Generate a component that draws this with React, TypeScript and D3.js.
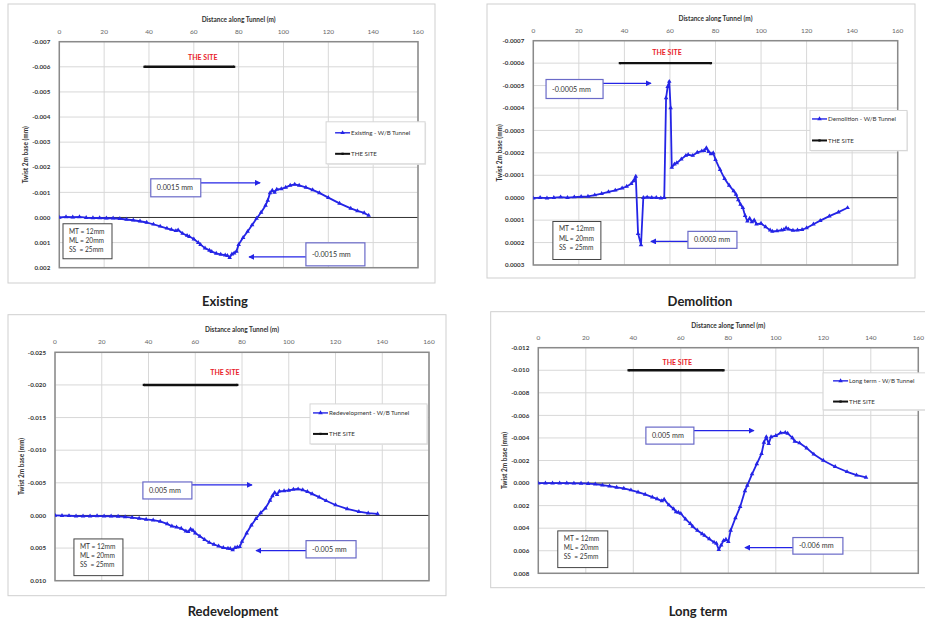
import React from 'react';
import * as d3 from 'd3';

// ---------------- DATA ----------------
const xTicks = [0, 20, 40, 60, 80, 100, 120, 140, 160];
const siteX = [38, 78];

const existingX = [0, 3, 6, 9, 12, 15, 18, 21, 24, 27, 30, 33, 36, 39, 42, 45, 48, 50, 52, 53, 55, 57, 58, 60, 62, 63, 65, 67, 68, 70, 72, 74, 75, 76, 77, 78, 79, 80, 82, 84, 86, 88, 90, 92, 93, 94, 95, 96, 97, 99, 101, 103, 105, 107, 110, 113, 116, 120, 125, 130, 133, 136, 138];
const existingTwist = [0, -0.00002, -0.00001, -0.00002, 0.00001, 0.00002, 0.00002, 0.00003, 0.00003, 0.00005, 0.00008, 0.00011, 0.00015, 0.0002, 0.00027, 0.00035, 0.00043, 0.00048, 0.00053, 0.0005, 0.00064, 0.00072, 0.00076, 0.00086, 0.001, 0.00108, 0.00122, 0.00131, 0.00136, 0.00143, 0.00147, 0.0015, 0.00152, 0.0016, 0.00146, 0.00142, 0.00135, 0.00108, 0.0008, 0.00056, 0.0003, 0.00004, -0.0002, -0.00048, -0.00068, -0.00098, -0.00108, -0.001, -0.00112, -0.00114, -0.0012, -0.00128, -0.00132, -0.00128, -0.0012, -0.0011, -0.00098, -0.00079, -0.00056, -0.00036, -0.00026, -0.00018, -0.00008];

const demolitionX = [0, 3, 6, 9, 12, 15, 18, 21, 24, 27, 30, 33, 36, 39, 41, 43, 44, 45, 46, 47.3, 48.3, 50, 52, 54, 56, 57.5, 58.3, 59, 59.7, 60.3, 60.8, 62, 63, 65, 67, 68, 70, 72, 74, 75, 76, 77, 78, 79, 80, 82, 84, 86, 88, 89, 90, 91, 92, 93, 94, 95, 96, 97, 98, 100, 102, 104, 105, 107, 109, 110, 111, 112, 114, 116, 118, 120, 123, 126, 130, 134, 138];
const demolitionTwist = [0.000002, 0, 0.000002, 0, -0.000003, 0, -0.000003, -0.000005, -0.000006, -0.000012, -0.000018, -0.000026, -0.000033, -0.000043, -0.00005, -0.000062, -0.000075, -0.000095, 0.00016, 0.00021, 0, -0.000002, 0, 0, 0.000002, 0, -0.000445, -0.000495, -0.000518, -0.0004, -0.000135, -0.00015, -0.000155, -0.000172, -0.000188, -0.000192, -0.000188, -0.000202, -0.000208, -0.00021, -0.000222, -0.000205, -0.000195, -0.0002, -0.00017, -0.000125, -0.000085, -0.000055, -0.00003, -0.000015, 0.00001, 0.00003, 0.000045, 0.00008, 0.000105, 0.000092, 0.000108, 0.0001, 0.000118, 0.000115, 0.00013, 0.000145, 0.00015, 0.000148, 0.000145, 0.000142, 0.000135, 0.00014, 0.000146, 0.000145, 0.000142, 0.000135, 0.000118, 0.000102, 0.000082, 0.000064, 0.000045];

const redevX = [0, 3, 6, 9, 12, 15, 18, 21, 24, 27, 30, 33, 36, 39, 42, 45, 48, 50, 52, 54, 56, 57, 58, 59, 60, 62, 64, 66, 68, 70, 72, 74, 75, 76, 77, 78, 79, 80, 82, 84, 86, 88, 90, 92, 93, 94, 95, 96, 98, 100, 102, 104, 106, 108, 110, 113, 116, 120, 125, 130, 134, 138];
const redevTwist = [0, 0.00002, 0.00005, 0.0001, 0.0001, 0.0001, 0.00008, 0.0001, 0.00012, 0.00015, 0.00022, 0.00032, 0.00045, 0.0006, 0.00072, 0.00092, 0.0013, 0.00165, 0.0018, 0.002, 0.0024, 0.0025, 0.0021, 0.0023, 0.0027, 0.0032, 0.0037, 0.00415, 0.00445, 0.0047, 0.00495, 0.00505, 0.0051, 0.0053, 0.00495, 0.00485, 0.0048, 0.004, 0.0027, 0.0015, 0.0005, -0.0004, -0.0011, -0.0023, -0.003, -0.0035, -0.0032, -0.0037, -0.00375, -0.00385, -0.004, -0.00405, -0.0039, -0.00365, -0.0033, -0.0028, -0.00225, -0.0016, -0.001, -0.00058, -0.00035, -0.00025];

const longX = [0, 3, 6, 9, 12, 15, 18, 21, 24, 27, 30, 33, 36, 39, 42, 45, 48, 50, 52, 53, 55, 57, 58, 59, 60, 62, 64, 65, 67, 69, 70, 72, 74, 75, 76, 77, 78, 79, 80, 81, 83, 85, 87, 88, 90, 92, 94, 95, 96, 97, 98, 100, 102, 104, 105, 107, 108, 110, 113, 116, 120, 125, 130, 134, 138];
const longTwist = [0, 0, 0, 0, 0, 0.00002, 0.00003, 0.00005, 0.0001, 0.00018, 0.00028, 0.00038, 0.00048, 0.00062, 0.0008, 0.001, 0.00125, 0.0014, 0.00158, 0.00145, 0.00195, 0.0023, 0.00255, 0.0026, 0.0027, 0.0032, 0.0036, 0.00385, 0.0042, 0.0045, 0.00465, 0.00495, 0.00525, 0.00535, 0.0059, 0.0055, 0.0051, 0.005, 0.0052, 0.0042, 0.0031, 0.0021, 0.0007, 0.0002, -0.0008, -0.0017, -0.0026, -0.0036, -0.0041, -0.0035, -0.0041, -0.0042, -0.00445, -0.00448, -0.0044, -0.004, -0.0037, -0.00355, -0.0031, -0.00255, -0.002, -0.00145, -0.001, -0.0007, -0.0005];

const existingYTicks = [-0.007, -0.006, -0.005, -0.004, -0.003, -0.002, -0.001, 0, 0.001, 0.002];
const demolitionYTicks = [-0.0007, -0.0006, -0.0005, -0.0004, -0.0003, -0.0002, -0.0001, 0, 0.0001, 0.0002, 0.0003];
const redevYTicks = [-0.025, -0.02, -0.015, -0.01, -0.005, 0, 0.005, 0.01];
const longYTicks = [-0.012, -0.01, -0.008, -0.006, -0.004, -0.002, 0, 0.002, 0.004, 0.006, 0.008];

const panelTitles = ['Existing', 'Demolition', 'Redevelopment', 'Long term'];
const seriesNames = ['Existing - W/B Tunnel', 'Demolition - W/B Tunnel', 'Redevelopment - W/B Tunnel', 'Long term - W/B Tunnel'];
const siteLevels = [-0.006, -0.0006, -0.02, -0.01];
const mtLines = ['MT = 12mm', 'ML = 20mm', 'SS  = 25mm'];

// ---------------- LAYOUT ----------------
const FONT = "Lato, 'Open Sans', 'Liberation Sans', sans-serif";
const BLUE = '#2424e6';
const BOXBLUE = '#6a6ac8';

const panels = [
  {
    title: panelTitles[0], titleX: 225, titleY: 306,
    frame: [8, 4, 435, 283], plot: [59.3, 41.7, 418, 267.7],
    yTicks: existingYTicks, dec: 3, xs: existingX, ys: existingTwist, name: seriesNames[0], site: siteLevels[0],
    siteText: [64, -0.00639],
    legend: { x: 119, y: -0.00381, w: 99, h: 42, lx: 9, r1: 11, r2: 32 },
    mt: { x: 1.65, y: 0.00025, w: 49, h: 35 },
    ann: [
      { label: '0.0015 mm', x: 40.8, y: -0.00154, w: 50, h: 18, ay: -0.00138, tip: 90 },
      { label: '-0.0015 mm', x: 110, y: 0.00101, w: 59, h: 23, ay: 0.00157, tip: 84.2 },
    ],
  },
  {
    title: panelTitles[1], titleX: 700, titleY: 306,
    frame: [487, 4, 915, 278], plot: [533.3, 40.7, 897.7, 265],
    yTicks: demolitionYTicks, dec: 4, xs: demolitionX, ys: demolitionTwist, name: seriesNames[1], site: siteLevels[1],
    siteText: [58.7, -0.000648],
    legend: { x: 121.5, y: -0.000389, w: 97, h: 40, lx: 2, r1: 8.5, r2: 30 },
    mt: { x: 8.6, y: 0.000106, w: 48, h: 38 },
    ann: [
      { label: '-0.0005 mm', x: 5.6, y: -0.000527, w: 57, h: 19, ay: -0.00051, tip: 52.1 },
      { label: '0.0003 mm', x: 67.9, y: 0.00015, w: 49, h: 17, ay: 0.000195, tip: 51.2 },
    ],
  },
  {
    title: panelTitles[2], titleX: 233, titleY: 616,
    frame: [8, 314.7, 446, 595.7], plot: [55, 352.3, 429, 580.7],
    yTicks: redevYTicks, dec: 3, xs: redevX, ys: redevTwist, name: seriesNames[2], site: siteLevels[2],
    siteText: [72.7, -0.02188],
    legend: { x: 109.1, y: -0.01709, w: 117, h: 40, lx: 3, r1: 9, r2: 30 },
    mt: { x: 8.1, y: 0.0036, w: 49, h: 36.7 },
    ann: [
      { label: '0.005 mm', x: 37.6, y: -0.00513, w: 49, h: 17, ay: -0.00467, tip: 84.7 },
      { label: '-0.005 mm', x: 107.4, y: 0.00386, w: 50, h: 17.3, ay: 0.00539, tip: 85.6 },
    ],
  },
  {
    title: panelTitles[3], titleX: 698, titleY: 616,
    frame: [490.7, 311.7, 940, 587.7], plot: [538.3, 347.7, 918.3, 573.3],
    yTicks: longYTicks, dec: 3, xs: longX, ys: longTwist, name: seriesNames[3], site: siteLevels[3],
    siteText: [58.5, -0.01072],
    legend: { x: 119.9, y: -0.00977, w: 115, h: 37, lx: 10, r1: 8, r2: 28.7 },
    mt: { x: 8.2, y: 0.00424, w: 50, h: 36.7 },
    ann: [
      { label: '0.005 mm', x: 45.3, y: -0.00496, w: 48, h: 17, ay: -0.00465, tip: 91.2 },
      { label: '-0.006 mm', x: 107.2, y: 0.00483, w: 50, h: 16.6, ay: 0.00572, tip: 86.6 },
    ],
  },
];

function fmt(v: number, dec: number) {
  const s = Math.abs(v) < 1e-12 ? (0).toFixed(dec) : v.toFixed(dec);
  return s;
}

function Panel({ cfg, idx }: { cfg: any; idx: number }) {
  const [l, t, r, b] = cfg.plot;
  const x = d3.scaleLinear().domain([0, 160]).range([l, r]);
  const yDom = [cfg.yTicks[0], cfg.yTicks[cfg.yTicks.length - 1]];
  const y = d3.scaleLinear().domain(yDom).range([t, b]);
  const pts: [number, number][] = cfg.xs.map((v: number, i: number) => [v, cfg.ys[i]]);
  const line = d3.line<[number, number]>().x((d) => x(d[0])).y((d) => y(d[1]));
  const tri = d3.symbol().type(d3.symbolTriangle).size(9)() as string;
  const triLeg = d3.symbol().type(d3.symbolTriangle).size(9)() as string;
  const sq = d3.symbol().type(d3.symbolSquare).size(5)() as string;
  const [fx0, fy0, fx1, fy1] = cfg.frame;
  const lg = cfg.legend;
  const lgx = x(lg.x), lgy = y(lg.y);
  const clipId = `clip${idx}`;
  return (
    <g>
      <defs>
        <clipPath id={clipId}>
          <rect x={l} y={t} width={r - l} height={b - t} />
        </clipPath>
      </defs>
      <rect x={fx0} y={fy0} width={fx1 - fx0} height={fy1 - fy0} fill="#fff" stroke="#cfcfcf" strokeWidth={1} />
      {/* gridlines */}
      {xTicks.map((v) => (
        <line key={'gx' + v} x1={x(v)} x2={x(v)} y1={t} y2={b} stroke="#d8d8d8" strokeWidth={1} />
      ))}
      {cfg.yTicks.map((v: number) => (
        <line key={'gy' + v} x1={l} x2={r} y1={y(v)} y2={y(v)} stroke="#d8d8d8" strokeWidth={1} />
      ))}
      {/* zero line */}
      <line x1={l} x2={r} y1={y(0)} y2={y(0)} stroke="#333" strokeWidth={1} />
      {/* plot border */}
      <rect x={l} y={t} width={r - l} height={b - t} fill="none" stroke="#8a8a8a" strokeWidth={1.5} />
      {/* x ticks (top) */}
      {xTicks.map((v) => (
        <text key={'xt' + v} x={x(v)} y={t - 8} fontSize={6.5} fill="#666" textAnchor="middle" fontFamily={FONT}>
          {v}
        </text>
      ))}
      <text x={(l + r) / 2} y={t - 20} fontSize={6.5} fontWeight="bold" fill="#333" textAnchor="middle" fontFamily={FONT}>
        Distance along Tunnel (m)
      </text>
      {/* y ticks */}
      {cfg.yTicks.map((v: number) => (
        <text key={'yt' + v} x={l - 9} y={y(v) + 2.2} fontSize={6.2} fontWeight="bold" fill="#333" textAnchor="end" fontFamily={FONT}>
          {fmt(v, cfg.dec)}
        </text>
      ))}
      <text
        transform={`translate(${l - 31},${(t + b) / 2}) rotate(-90)`}
        fontSize={6.5} fontWeight="bold" fill="#333" textAnchor="middle" fontFamily={FONT}
      >
        Twist 2m base (mm)
      </text>
      {/* site bar */}
      <line x1={x(siteX[0])} x2={x(siteX[1])} y1={y(cfg.site)} y2={y(cfg.site)} stroke="#111" strokeWidth={2.4} />
      {siteX.map((v) => (
        <path key={'sm' + v} d={sq} transform={`translate(${x(v)},${y(cfg.site)})`} fill="#111" />
      ))}
      <text x={x(cfg.siteText[0])} y={y(cfg.siteText[1]) + 2.5} fontSize={7} fontWeight="bold" fill="#e8212a" textAnchor="middle" fontFamily={FONT}>
        THE SITE
      </text>
      {/* series */}
      <g clipPath={`url(#${clipId})`}>
        <path d={line(pts) as string} fill="none" stroke={BLUE} strokeWidth={1.8} strokeLinejoin="round" />
        {pts.map((p, i) => (
          <path key={i} d={tri} transform={`translate(${x(p[0])},${y(p[1])})`} fill={BLUE} />
        ))}
      </g>
      {/* annotations */}
      {cfg.ann.map((a: any, i: number) => {
        const bx = x(a.x), by = y(a.y);
        const tipX = x(a.tip), ay = y(a.ay);
        const fromX = tipX > bx ? bx + a.w : bx;
        return (
          <g key={'ann' + i}>
            <line x1={fromX} x2={tipX + (tipX > bx ? -1 : 1)} y1={ay} y2={ay} stroke={BLUE} strokeWidth={1.3} markerEnd="url(#arrowHead)" />
            <rect x={bx} y={by} width={a.w} height={a.h} fill="#fff" stroke={BOXBLUE} strokeWidth={1.2} />
            <text x={bx + 6} y={by + a.h / 2 + 2.5} fontSize={7.2} fill="#333" fontFamily={FONT}>
              {a.label}
            </text>
          </g>
        );
      })}
      {/* MT box */}
      <g>
        <rect x={x(cfg.mt.x)} y={y(cfg.mt.y)} width={cfg.mt.w} height={cfg.mt.h} fill="#fff" stroke="#444" strokeWidth={1} />
        {mtLines.map((s, i) => (
          <text key={s} x={x(cfg.mt.x) + 6} y={y(cfg.mt.y) + 10 + i * 9.2} fontSize={6.6} fill="#333" fontFamily={FONT} xmlSpace="preserve">
            {s}
          </text>
        ))}
      </g>
      {/* legend */}
      <g>
        <rect x={lgx + 1} y={lgy + 1} width={lg.w} height={lg.h} fill="#e6e6e6" />
        <rect x={lgx} y={lgy} width={lg.w} height={lg.h} fill="#fff" stroke="#d6d6d6" strokeWidth={1} />
        <line x1={lgx + lg.lx} x2={lgx + lg.lx + 15} y1={lgy + lg.r1} y2={lgy + lg.r1} stroke={BLUE} strokeWidth={1.4} />
        <path d={triLeg} transform={`translate(${lgx + lg.lx + 7.5},${lgy + lg.r1})`} fill={BLUE} />
        <text x={lgx + lg.lx + 16} y={lgy + lg.r1 + 2.2} fontSize={6.2} fill="#333" fontFamily={FONT}>
          {cfg.name}
        </text>
        <line x1={lgx + lg.lx} x2={lgx + lg.lx + 15} y1={lgy + lg.r2} y2={lgy + lg.r2} stroke="#111" strokeWidth={2} />
        <path d={sq} transform={`translate(${lgx + lg.lx + 7.5},${lgy + lg.r2})`} fill="#111" />
        <text x={lgx + lg.lx + 16} y={lgy + lg.r2 + 2.2} fontSize={6.2} fill="#333" fontFamily={FONT}>
          THE SITE
        </text>
      </g>
      {/* panel title */}
      <text x={cfg.titleX} y={cfg.titleY} fontSize={13} fontWeight="bold" fill="#222" textAnchor="middle" fontFamily={FONT}>
        {cfg.title}
      </text>
    </g>
  );
}

export default function App() {
  return (
    <svg
      width={925}
      height={623}
      viewBox="0 0 925 623"
      style={{ position: 'absolute', left: 0, top: 0, background: '#fff' }}
    >
      <defs>
        <marker id="arrowHead" viewBox="0 0 8 8" refX={7} refY={4} markerWidth={6} markerHeight={6} orient="auto" markerUnits="userSpaceOnUse">
          <path d="M0,0 L8,4 L0,8 z" fill={BLUE} />
        </marker>
      </defs>
      <rect x={0} y={0} width={925} height={623} fill="#fff" />
      {panels.map((p, i) => (
        <Panel key={i} cfg={p} idx={i} />
      ))}
    </svg>
  );
}
